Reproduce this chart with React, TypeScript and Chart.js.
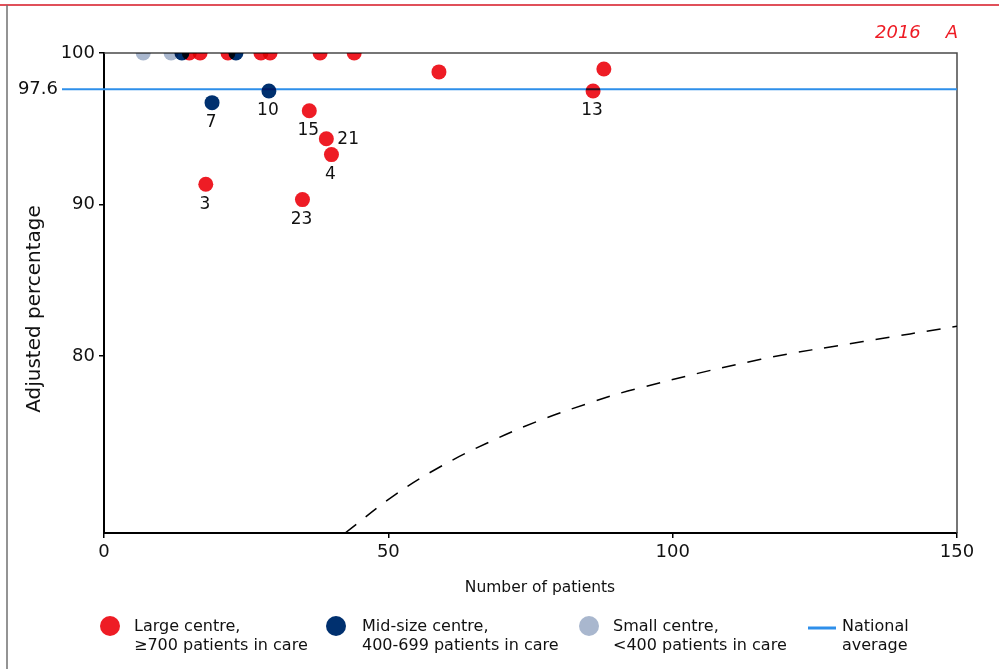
import React, { useEffect, useRef } from "react";
import { Chart, registerables } from "chart.js";

Chart.register(...registerables);

// Large centres (≥700 patients in care)
const largeN = [15.0, 16.9, 21.8, 27.6, 29.2, 38.0, 44.0, 58.9, 87.9, 86.0, 36.1, 39.1, 40.0, 17.9, 34.9];
const largePct = [100, 100, 100, 100, 100, 100, 100, 98.75, 98.94, 97.49, 96.19, 94.34, 93.29, 91.33, 90.32];
const largeIds = ["", "", "", "", "", "", "", "", "", "13", "15", "21", "4", "3", "23"];

// Mid-size centres (400-699 patients in care)
const midN = [13.7, 23.2, 19.0, 29.0];
const midPct = [100, 100, 96.72, 97.49];
const midIds = ["", "", "7", "10"];

// Small centres (<400 patients in care)
const smallN = [6.9, 11.8];
const smallPct = [100, 100];

// Lower control limit
const limitN = [42.4, 51.35, 59.2, 67.6, 76.1, 84.9, 93.4, 115.5, 133.5, 150];
const limitPct = [68.3, 70.87, 72.69, 74.28, 75.66, 76.83, 77.8, 79.77, 80.94, 81.95];

const nationalAverage = 97.6;
const xTicks = [0, 50, 100, 150];
const yTicks = [80, 90, 100];
const idsOnRight = ["21"];

const RED = "#EE1C25";
const NAVY = "#00306F";
const GREY = "#A9B7CE";
const BLUE = "#2E8FEA";
const FONT = "'DejaVu Sans', Verdana, sans-serif";

const toPoints = (xs: number[], ys: number[]) => xs.map((x, i) => ({ x, y: ys[i] }));

const decorPlugin = {
  id: "decor",
  beforeDraw(chart: any) {
    const { ctx, width, height } = chart;
    ctx.save();
    ctx.fillStyle = "#fff";
    ctx.fillRect(0, 0, width, height);
    // page frame
    ctx.strokeStyle = "#E0505A";
    ctx.lineWidth = 2;
    ctx.beginPath();
    ctx.moveTo(0, 5);
    ctx.lineTo(width, 5);
    ctx.stroke();
    ctx.strokeStyle = "#707070";
    ctx.lineWidth = 1.5;
    ctx.beginPath();
    ctx.moveTo(7, 5);
    ctx.lineTo(7, height);
    ctx.stroke();
    ctx.restore();
  },
  beforeDatasetsDraw(chart: any) {
    const { ctx, chartArea } = chart;
    const yS = chart.scales.y;
    ctx.save();
    // top and right edges of the plot box
    ctx.strokeStyle = "#4a4a4a";
    ctx.lineWidth = 1.5;
    ctx.beginPath();
    ctx.moveTo(chartArea.left, chartArea.top);
    ctx.lineTo(chartArea.right, chartArea.top);
    ctx.lineTo(chartArea.right, chartArea.bottom);
    ctx.stroke();
    // national average
    const yAvg = yS.getPixelForValue(nationalAverage);
    ctx.strokeStyle = BLUE;
    ctx.lineWidth = 2;
    ctx.beginPath();
    ctx.moveTo(62, yAvg);
    ctx.lineTo(chartArea.right, yAvg);
    ctx.stroke();
    ctx.fillStyle = "#111";
    ctx.font = `18px ${FONT}`;
    ctx.textAlign = "right";
    ctx.textBaseline = "middle";
    ctx.fillText(String(nationalAverage), 58, yAvg);
    ctx.restore();
    // overlapping markers darken each other
    ctx.save();
    ctx.globalCompositeOperation = "multiply";
  },
  afterDatasetsDraw(chart: any) {
    const { ctx } = chart;
    ctx.restore();
    ctx.save();
    ctx.fillStyle = "#111";
    ctx.font = `17px ${FONT}`;
    ctx.textBaseline = "middle";
    const groups: [number, string[]][] = [
      [1, largeIds],
      [2, midIds],
    ];
    groups.forEach(([di, ids]) => {
      const meta = chart.getDatasetMeta(di);
      ids.forEach((id, j) => {
        if (!id) return;
        const el = meta.data[j];
        if (idsOnRight.includes(id)) {
          ctx.textAlign = "left";
          ctx.fillText(id, el.x + 11, el.y + 1);
        } else {
          ctx.textAlign = "center";
          ctx.fillText(id, el.x - 1, el.y + 20);
        }
      });
    });
    ctx.restore();
  },
  afterDraw(chart: any) {
    const { ctx, chartArea } = chart;
    ctx.save();
    // y-axis title
    ctx.translate(35, 309);
    ctx.rotate(-Math.PI / 2);
    ctx.fillStyle = "#111";
    ctx.font = `20px ${FONT}`;
    ctx.textAlign = "center";
    ctx.textBaseline = "middle";
    ctx.fillText("Adjusted percentage", 0, 0);
    ctx.restore();

    // x-axis title
    ctx.save();
    ctx.fillStyle = "#111";
    ctx.font = `15.5px ${FONT}`;
    ctx.textAlign = "center";
    ctx.textBaseline = "middle";
    ctx.fillText("Number of patients", 540, 588);
    ctx.restore();

    ctx.save();
    ctx.fillStyle = RED;
    ctx.font = `italic 18px ${FONT}`;
    ctx.textBaseline = "middle";
    ctx.textAlign = "left";
    ctx.fillText("2016", 875, 33);
    ctx.textAlign = "right";
    ctx.fillText("A", chartArea.right + 1, 33);
    ctx.restore();

    // legend
    ctx.save();
    ctx.font = `16px ${FONT}`;
    ctx.fillStyle = "#111";
    ctx.textBaseline = "middle";
    ctx.textAlign = "left";
    const items: [string, string, number, number, string][] = [
      [RED, "dot", 110, 134, "Large centre,|≥700 patients in care"],
      [NAVY, "dot", 336, 362, "Mid-size centre,|400-699 patients in care"],
      [GREY, "dot", 589, 613, "Small centre,|<400 patients in care"],
      [BLUE, "line", 822, 842, "National|average"],
    ];
    items.forEach(([color, kind, mx, tx, text]) => {
      if (kind === "dot") {
        ctx.fillStyle = color;
        ctx.beginPath();
        ctx.arc(mx, 626, 10, 0, Math.PI * 2);
        ctx.fill();
      } else {
        ctx.strokeStyle = color;
        ctx.lineWidth = 3;
        ctx.beginPath();
        ctx.moveTo(808, 628);
        ctx.lineTo(836, 628);
        ctx.stroke();
      }
      ctx.fillStyle = "#111";
      const [l1, l2] = text.split("|");
      ctx.fillText(l1, tx, 627);
      ctx.fillText(l2, tx, 646);
    });
    ctx.restore();
  },
};

export default function App() {
  const ref = useRef<HTMLCanvasElement | null>(null);

  useEffect(() => {
    document.body.style.margin = "0";
    const canvas = ref.current;
    if (!canvas) return;
    const tickGrid = {
      display: true,
      drawOnChartArea: false,
      drawTicks: true,
      tickLength: 5,
      color: "#000",
      lineWidth: 1.5,
    };
    const chart = new Chart(canvas, {
      type: "scatter",
      data: {
        datasets: [
          {
            label: "Small centre",
            data: toPoints(smallN, smallPct),
            backgroundColor: GREY,
            borderWidth: 0,
            pointRadius: 7.5,
          },
          {
            label: "Large centre",
            data: toPoints(largeN, largePct),
            backgroundColor: RED,
            borderWidth: 0,
            pointRadius: 7.5,
          },
          {
            label: "Mid-size centre",
            data: toPoints(midN, midPct),
            backgroundColor: NAVY,
            borderWidth: 0,
            pointRadius: 7.5,
          },
          {
            type: "line",
            label: "Control limit",
            data: toPoints(limitN, limitPct),
            borderColor: "#000",
            borderWidth: 1.5,
            borderDash: [14, 12],
            pointRadius: 0,
            tension: 0.4,
            fill: false,
          } as any,
        ],
      },
      options: {
        responsive: false,
        animation: false,
        events: [],
        layout: { padding: { top: 53, right: 42, left: 0, bottom: 0 } },
        plugins: { legend: { display: false }, tooltip: { enabled: false } },
        scales: {
          x: {
            type: "linear",
            min: 0,
            max: 150,
            afterBuildTicks: (s: any) => {
              s.ticks = xTicks.map((v) => ({ value: v }));
            },
            afterFit: (s: any) => {
              s.height = 136;
            },
            ticks: { font: { size: 18, family: FONT }, color: "#111", padding: 4, maxRotation: 0 },
            grid: tickGrid,
            border: { display: true, color: "#000", width: 2 },
          },
          y: {
            type: "linear",
            min: 68.3,
            max: 100,
            afterBuildTicks: (s: any) => {
              s.ticks = yTicks.map((v) => ({ value: v }));
            },
            afterFit: (s: any) => {
              s.width = 104;
            },
            ticks: { font: { size: 18, family: FONT }, color: "#111", padding: 4 },
            grid: tickGrid,
            border: { display: true, color: "#000", width: 2 },
          },
        },
      },
      plugins: [decorPlugin],
    });
    return () => chart.destroy();
  }, []);

  return (
    <div style={{ position: "absolute", left: 0, top: 0, width: 999, height: 669, background: "#fff" }}>
      <canvas ref={ref} width={999} height={669} style={{ display: "block" }} />
    </div>
  );
}
